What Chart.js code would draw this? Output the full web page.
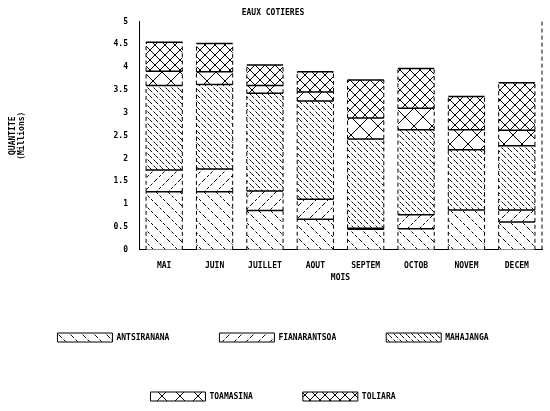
<!DOCTYPE html><html><head><script src="https://cdn.jsdelivr.net/npm/chart.js@4"></script>
<style>body{margin:0;background:#fff}#w{width:550px;height:411px}</style></head><body><div id="w"><canvas id="c"></canvas></div>
<script>
const categories=["MAI","JUIN","JUILLET","AOUT","SEPTEM","OCTOB","NOVEM","DECEM"];
const antsiranana=[1.27,1.27,0.86,0.67,0.45,0.46,0.87,0.61];
const fianarantsoa=[0.48,0.50,0.43,0.44,0.02,0.31,0.00,0.26];
const mahajanga=[1.85,1.85,2.14,2.15,1.96,1.86,1.32,1.41];
const toamasina=[0.31,0.28,0.17,0.20,0.46,0.47,0.44,0.34];
const toliara=[0.64,0.62,0.45,0.44,0.83,0.87,0.73,1.04];
const seriesNames=["ANTSIRANANA","FIANARANTSOA","MAHAJANGA","TOAMASINA","TOLIARA"];
const yTicks=[0,0.5,1,1.5,2,2.5,3,3.5,4,4.5,5];
function pat(kind){const s=kind==='dense'?6:(kind==='bigx'?18:(kind==='smallx'?10:12));const c=document.createElement('canvas');c.width=c.height=s;const g=c.getContext('2d');g.fillStyle='#fff';g.fillRect(0,0,s,s);g.strokeStyle='#000';g.lineWidth=1;g.setLineDash([3,2]);g.beginPath();
if(kind==='back'||kind==='dense'){g.moveTo(0,0);g.lineTo(s,s);}
if(kind==='fwd'){g.moveTo(s,0);g.lineTo(0,s);}
if(kind==='bigx'||kind==='smallx'){g.setLineDash([]);g.moveTo(0,0);g.lineTo(s,s);g.moveTo(s,0);g.lineTo(0,s);}
g.stroke();return g.createPattern(c,'repeat');}
const pats=[pat('back'),pat('fwd'),pat('dense'),pat('bigx'),pat('smallx')];
const vals=[antsiranana,fianarantsoa,mahajanga,toamasina,toliara];
const dashPlugin={id:'dash',afterDatasetsDraw(ch){const g=ch.ctx;g.save();g.strokeStyle='#000';g.lineWidth=1;
ch.data.datasets.forEach((d,i)=>{ch.getDatasetMeta(i).data.forEach(b=>{const x0=b.x-b.width/2,top=Math.min(b.y,b.base),h=Math.abs(b.base-b.y);if(h<0.5)return;g.setLineDash([4,3]);g.beginPath();g.moveTo(x0,b.base);g.lineTo(x0,top);g.moveTo(x0+b.width,b.base);g.lineTo(x0+b.width,top);g.stroke();g.setLineDash([]);g.lineWidth=1.5;g.beginPath();g.moveTo(x0,top);g.lineTo(x0+b.width,top);g.stroke();g.lineWidth=1;});});
const a=ch.chartArea;g.setLineDash([4,3]);g.beginPath();g.moveTo(a.right,a.top);g.lineTo(a.right,a.bottom);g.stroke();g.restore();}};
Chart.defaults.font.family="DejaVu Sans Mono";Chart.defaults.font.weight="bold";Chart.defaults.color="#000";
new Chart(document.getElementById('c'),{type:'bar',data:{labels:categories,datasets:seriesNames.map((n,i)=>({label:n,data:vals[i],backgroundColor:pats[i],borderWidth:0,barPercentage:0.72,categoryPercentage:1}))},
options:{animation:false,responsive:true,maintainAspectRatio:false,layout:{padding:{right:8,top:0,left:4}},
plugins:{title:{display:true,text:'EAUX COTIERES',font:{size:8},padding:{top:8,bottom:4}},
legend:{position:'bottom',labels:{boxWidth:55,boxHeight:9,font:{size:8},padding:50,generateLabels(ch){return seriesNames.map((n,i)=>({text:n,fillStyle:pats[i],strokeStyle:'#000',lineWidth:1,datasetIndex:i}));}}},tooltip:{enabled:false}},
scales:{x:{stacked:true,grid:{display:false},border:{color:'#000'},ticks:{font:{size:8}},title:{display:true,text:'MOIS',font:{size:8},padding:0}},
y:{stacked:true,min:0,max:5,afterBuildTicks(a){a.ticks=yTicks.map(v=>({value:v}));},afterFit(a){a.width=135;},grid:{display:false,drawTicks:true},border:{color:'#000',dash:[4,3]},ticks:{font:{size:8},callback:v=>String(v)},title:{display:true,text:['QUANTITE','(Millions)'],font:{size:8}}}}},
plugins:[dashPlugin]});
</script></body></html>
